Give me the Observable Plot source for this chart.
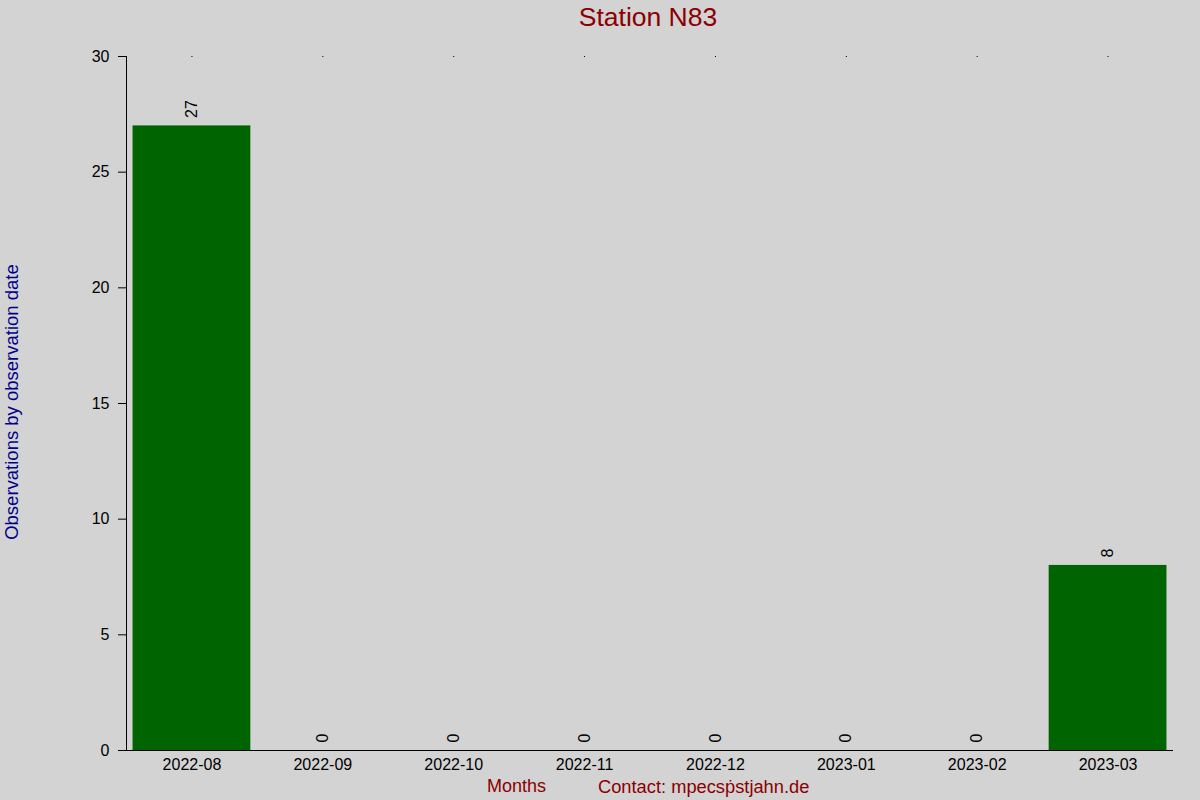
<!DOCTYPE html>
<html><head><meta charset="utf-8">
<script src="https://cdn.jsdelivr.net/npm/d3@7"></script>
<script src="https://cdn.jsdelivr.net/npm/@observablehq/plot@0.6"></script>
<style>
html,body{margin:0;padding:0;background:#d3d3d3;}
#wrap{position:relative;width:1200px;height:800px;font-family:"Liberation Sans",Arial,sans-serif;}
.t{position:absolute;white-space:nowrap;color:#8b0000;}
</style></head>
<body><div id="wrap"></div>
<script>
const months = ["2022-08","2022-09","2022-10","2022-11","2022-12","2023-01","2023-02","2023-03"];
const counts = [27,0,0,0,0,0,0,8];
const yTicks = [0,5,10,15,20,25,30];
const data = months.map((m,i)=>({month:m,count:counts[i]}));

const chart = Plot.plot({
  width:1200, height:800,
  marginLeft:126, marginRight:27, marginTop:56, marginBottom:50,
  style:{background:"#d3d3d3", fontFamily:"Liberation Sans, Arial, sans-serif", fontSize:"16px", color:"black"},
  x:{domain:months, paddingInner:0.1, paddingOuter:0.05, round:false, label:null},
  y:{domain:[0,30], label:null},
  marks:[
    Plot.barY(data,{x:"month", y:"count", fill:"#006400"}),
    Plot.frame({anchor:"left", stroke:"black"}),
    Plot.ruleY([0],{stroke:"black", insetLeft:-8}),
    Plot.axisY({ticks:yTicks, tickSize:8, tickPadding:9, fontSize:16, label:null}),
    Plot.axisX({anchor:"bottom", tickSize:0, tickPadding:8, fontSize:16, label:null}),
    Plot.axisX({anchor:"top", tickSize:1, tickFormat:()=>"", label:null}),
    Plot.text(data,{x:"month", y:"count", text:d=>String(d.count), rotate:-90, textAnchor:"start", dy:-8, fontSize:16, fill:"black"})
  ]
});
const wrap = document.getElementById("wrap");
wrap.appendChild(chart);
function addText(txt, css){const d=document.createElement("div");d.className="t";d.textContent=txt;Object.assign(d.style,css);wrap.appendChild(d);}
addText("Station N83",{left:"0",width:"1296px",textAlign:"center",top:"2px",fontSize:"26.5px"});
addText("Months",{left:"487px",top:"776px",fontSize:"18px"});
addText("Contact: mpecsp\u0307stjahn.de",{left:"598px",top:"776px",fontSize:"18.3px"});
addText("Observations by observation date",{left:"12px",top:"402px",fontSize:"18.5px",color:"#00008b",transform:"translate(-50%,-50%) rotate(-90deg)"});
</script></body></html>
